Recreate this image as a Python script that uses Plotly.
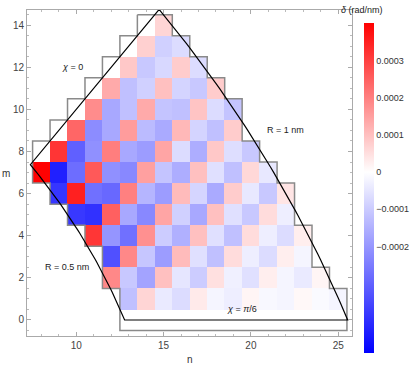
import numpy as np
import plotly.graph_objects as go

# chiral indices: for each m (0..14) the first n of the row
m_rows = list(range(0, 15))
n_first = [13, 13, 12, 12, 11, 10, 9, 8, 8, 9, 10, 11, 12, 13, 14]

# delta values in units of 1e-4 rad/nm, one list per row m, starting at n_first[m]
delta_e4 = [
    [0, 0, 0, 0, 0, 0, 0, 0, 0, 0, 0, 0, 0],
    [-1.2, 0.66, -0.4, -0.67, 0.33, -0.19, -0.33, 0.16, -0.13, -0.19, 0.11, -0.1, -0.19],
    [1.88, -1.05, -1.76, 1.0, -0.47, -0.98, 0.49, -0.29, -0.6, 0.27, -0.19, -0.4, 0.16],
    [-3.35, 1.88, -1.1, -1.9, 1.08, -0.6, -1.2, 0.55, -0.33, -0.67, 0.27, -0.19],
    [3.18, -2.03, -2.73, 1.75, -0.98, -1.51, 1.0, -0.6, -1.2, 0.55, -0.33, -0.67, 0.27],
    [-3.8, -3.95, 2.51, -1.66, -2.28, 1.42, -0.9, -1.66, 1.0, -0.6, -1.05, 0.55, -0.33],
    [-3.85, 3.53, -2.73, -2.89, 2.0, -1.42, -1.9, 1.08, -0.8, -1.63, 0.81, -0.44, -1.05, 0.41],
    [4.0, -4.27, -2.8, 2.63, -2.12, -2.28, 1.5, -1.13, -1.57, 1.0, -0.6, -1.2, 0.62, -0.44],
    [0, 3.2, -3.05, -2.12, 2.04, -1.66, -1.9, 1.42, -0.67, -1.57, 0.87, -0.63, -1.05],
    [0, 2.42, -2.2, -1.66, 1.56, -1.3, -1.63, 1.12, -0.82, -1.2, 0.81],
    [0, 1.81, -1.66, -1.2, 1.34, -1.13, -1.2, 0.94, -0.67, -1.13],
    [0, 1.34, -1.2, -0.9, 1.0, -0.82, -1.05, 0.81],
    [0, 0.87, -1.05, -0.75, 0.81, -0.67],
    [0, 0.74, -0.9, -0.67],
    [0, 0.66],
]

n_axis = list(range(8, 26))
cbar_ticks = [-0.0002, -0.0001, 0, 0.0001, 0.0002, 0.0003]
cbar_text = ["\u22120.0002", "\u22120.0001", "0", "0.0001", "0.0002", "0.0003"]
z_min, z_max = -4.88e-4, 4.03e-4

# radius limits of the region (nm) and graphene lattice constant (nm)
r_inner, r_outer = 0.5, 1.0
a_cc = 0.246

# ---- heatmap grid
z = [[None] * len(n_axis) for _ in m_rows]
for m, n0, vals in zip(m_rows, n_first, delta_e4):
    for k, v in enumerate(vals):
        z[m][n0 + k - n_axis[0]] = v * 1e-4

zero_pos = -z_min / (z_max - z_min)
fig = go.Figure()
fig.add_trace(go.Heatmap(
    x=n_axis, y=m_rows, z=z,
    zmin=z_min, zmax=z_max,
    colorscale=[[0, "rgb(0,0,255)"], [zero_pos, "rgb(255,255,255)"], [1, "rgb(255,0,0)"]],
    hoverongaps=False,
    colorbar=dict(
        thickness=10, lenmode="pixels", len=330,
        x=1.037, xanchor="left", y=0.96, yanchor="top",
        xpad=0, ypad=0, outlinewidth=0,
        tickvals=cbar_ticks, ticktext=cbar_text, ticks="",
        tickfont=dict(size=9, color="#333"),
    ),
))

# ---- staircase outline of the computed cells
n_last = [n0 + len(v) - 1 for n0, v in zip(n_first, delta_e4)]
ox, oy = [n_first[-1] - 0.5], [14.5]
for m in reversed(m_rows):
    ox += [n_last[m] + 0.5, n_last[m] + 0.5]
    oy += [m + 0.5, m - 0.5]
for m in m_rows:
    ox += [n_first[m] - 0.5, n_first[m] - 0.5]
    oy += [m - 0.5, m + 0.5]
fig.add_trace(go.Scatter(x=ox, y=oy, mode="lines", line=dict(color="#8a8a8a", width=1.5),
                         showlegend=False, hoverinfo="skip"))

# ---- boundary: R = 0.5 nm, R = 1 nm, chi = 0, chi = pi/6
def iso_radius(r, phi):
    N = 2 * r * np.pi / a_cc
    m = 2 * N * np.sin(phi) / np.sqrt(3)
    n = N * (np.cos(phi) - np.sin(phi) / np.sqrt(3))
    return n, m

phi = np.linspace(np.pi / 6, 0, 60)
n_out, m_out = iso_radius(r_outer, phi)
n_in, m_in = iso_radius(r_inner, phi[::-1])
px = np.concatenate([n_out, n_in, [n_out[0]]])
py = np.concatenate([m_out, m_in, [m_out[0]]])
fig.add_trace(go.Scatter(x=px, y=py, mode="lines", line=dict(color="black", width=1.2),
                         showlegend=False, hoverinfo="skip"))

txt = dict(size=9, color="#222")
fig.add_annotation(x=9.77, y=12.0, text="<i>χ</i> = 0", showarrow=False, font=txt)
fig.add_annotation(x=22.0, y=9.0, text="R = 1 nm", showarrow=False, font=txt)
fig.add_annotation(x=9.47, y=2.5, text="R = 0.5 nm", showarrow=False, font=txt)
fig.add_annotation(x=19.47, y=0.5, text="<i>χ</i> = <i>π</i>/6", showarrow=False, font=txt)
fig.add_annotation(x=0.5, y=-0.071, xref="paper", yref="paper", text="n", showarrow=False,
                   font=dict(size=10, color="#333"), yanchor="middle")
fig.add_annotation(x=-0.065, y=0.5, xref="paper", yref="paper", text="m", showarrow=False,
                   font=dict(size=10, color="#333"), xanchor="center")
fig.add_annotation(x=1.10, y=1.0, xref="paper", yref="paper", text="<i>δ</i> (rad/nm)",
                   showarrow=False, font=dict(size=9, color="#222"), yanchor="middle")

axis_style = dict(
    showgrid=False, zeroline=False, showline=True, linecolor="#aaaaaa", linewidth=1,
    mirror="ticks", ticks="inside", ticklen=4, tickcolor="#aaaaaa",
    tickfont=dict(size=10, color="#444"),
)
fig.update_xaxes(range=[7.18, 25.79], tickvals=[10, 15, 20, 25],
                 minor=dict(dtick=1, tick0=0, ticks="inside", ticklen=2, tickcolor="#bbbbbb"),
                 **axis_style)
fig.update_yaxes(range=[-0.76, 14.72], tickvals=list(range(0, 15, 2)),
                 minor=dict(dtick=0.5, tick0=0, ticks="inside", ticklen=2, tickcolor="#bbbbbb"),
                 **axis_style)
fig.update_layout(
    width=415, height=374,
    margin=dict(l=27, r=63, t=10, b=38, autoexpand=False),
    plot_bgcolor="white", paper_bgcolor="white",
    font=dict(family="Liberation Sans, Arial, sans-serif"),
    showlegend=False,
)
# the page's default body margin would shift the figure by 8 px
fig.write_html("out.html", config={"displayModeBar": False},
               post_script="document.body.style.margin='0';")
